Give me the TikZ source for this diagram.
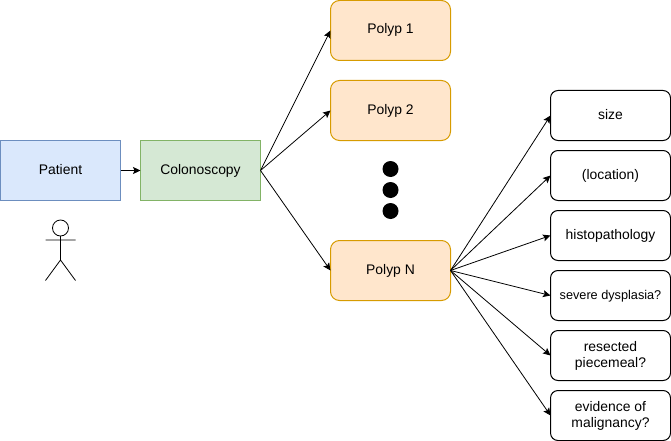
\documentclass[tikz,border=0pt]{standalone}
\usepackage{fontspec}
\setmainfont{Liberation Sans}
\usetikzlibrary{arrows.meta}
\definecolor{bluefill}{HTML}{DAE8FC}
\definecolor{bluestroke}{HTML}{6C8EBF}
\definecolor{greenfill}{HTML}{D5E8D4}
\definecolor{greenstroke}{HTML}{82B366}
\definecolor{orangefill}{HTML}{FFE6CC}
\definecolor{orangestroke}{HTML}{D79B00}
\tikzset{
  basebox/.style={draw,line width=1pt,outer sep=0pt,inner sep=0pt,align=center,font=\fontsize{13.9}{16}\selectfont,text=black},
  oneline/.style={text height=10pt,text depth=3pt},
  bigbox/.style={basebox,oneline,minimum width=120pt,minimum height=60pt},
  patientbox/.style={bigbox,fill=bluefill,draw=bluestroke},
  colobox/.style={bigbox,fill=greenfill,draw=greenstroke},
  polypbox/.style={bigbox,rounded corners=9pt,fill=orangefill,draw=orangestroke},
  attrbox/.style={basebox,rounded corners=7.5pt,minimum width=120pt,minimum height=50pt,fill=white,draw=black},
  conn/.style={draw=black,line width=0.8pt,-{Stealth[length=7.5pt,width=7pt,inset=1.5pt]}},
  actorline/.style={draw=black,line width=0.8pt},
}
\begin{document}
\begin{tikzpicture}[x=1pt,y=-1pt]
\useasboundingbox (0,0) rectangle (671,441);
\node[patientbox] (patient) at (60.5,170.5) {Patient};
\node[colobox] (colo) at (200.5,170.5) {Colonoscopy};
\node[polypbox] (p1) at (390.5,30.5) {Polyp 1};
\node[polypbox] (p2) at (390.5,110.5) {Polyp 2};
\node[polypbox] (pn) at (390.5,270.5) {Polyp N};
\node[attrbox,oneline] (size) at (610.5,115.5) {size};
\node[attrbox,oneline] (loc) at (610.5,175.5) {(location)};
\node[attrbox,oneline] (histo) at (610.5,235.5) {histopathology};
\node[attrbox,oneline,font=\fontsize{12.7}{16}\selectfont] (sev) at (610.5,295.5) {severe dysplasia?};
\node[attrbox] (res) at (610.5,355.5) {resected\\piecemeal?};
\node[attrbox] (evi) at (610.5,415.5) {evidence of\\malignancy?};
\fill[black] (390.5,169) circle (8pt) (390.5,190) circle (8pt) (390.5,211) circle (8pt);
\draw[actorline] (60.5,228) circle (8pt);
\draw[actorline] (60.5,236) -- (60.5,260) (45.5,240) -- (75.5,240) (45.5,280.5) -- (60.5,260) -- (75.5,280.5);
\draw[conn] (patient.east) -- (colo.west);
\draw[conn] (colo.east) -- (p1.west);
\draw[conn] (colo.east) -- (p2.west);
\draw[conn] (colo.east) -- (pn.west);
\draw[conn] (pn.east) -- (size.west);
\draw[conn] (pn.east) -- (loc.west);
\draw[conn] (pn.east) -- (histo.west);
\draw[conn] (pn.east) -- (sev.west);
\draw[conn] (pn.east) -- (res.west);
\draw[conn] (pn.east) -- (evi.west);
\end{tikzpicture}
\end{document}
